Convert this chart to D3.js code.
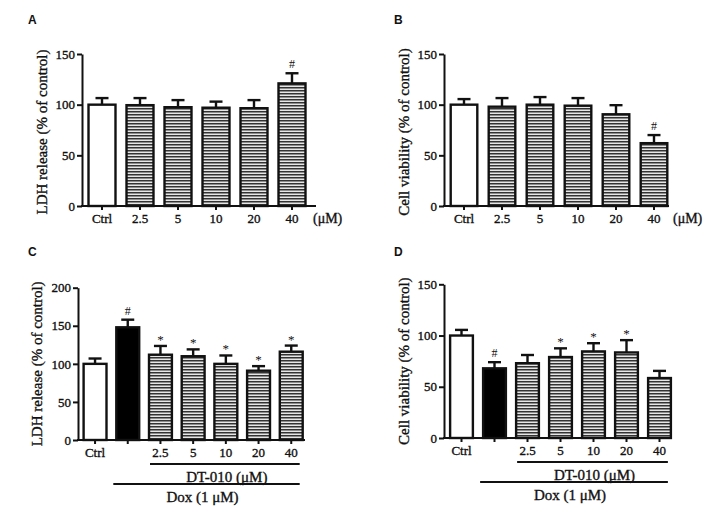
<!DOCTYPE html>
<html><head><meta charset="utf-8">
<script src="https://cdn.jsdelivr.net/npm/d3@7"></script>
<style>
body{margin:0;background:#fff;}
svg{display:block;}
text{font-family:"Liberation Serif","Times New Roman",serif;fill:#111;}
text.s{stroke:#111;stroke-width:0.35px;}
</style></head>
<body><svg id="c" width="708" height="510"></svg>
<script>
// ---- data ----
const catsAB = ["Ctrl", "2.5", "5", "10", "20", "40"];
const labelsAB = ["Ctrl", "2.5", "5", "10", "20", "40"];
const catsCD = ["Ctrl", "Dox", "2.5", "5", "10", "20", "40"];
const labelsCD = ["Ctrl", "", "2.5", "5", "10", "20", "40"];

const ldhA = [100, 99.5, 97.5, 97, 96.5, 121];
const ldhAErr = [6.5, 7, 7, 6, 8, 10];
const ldhAMark = ["", "", "", "", "", "#"];

const viaB = [100, 98, 100, 99, 90.5, 62];
const viaBErr = [5.5, 8.5, 7.5, 7.5, 9, 8];
const viaBMark = ["", "", "", "", "", "#"];

const ldhC = [100, 148, 112, 110, 100, 91, 116];
const ldhCErr = [7, 10, 11.5, 9, 11, 6, 8];
const ldhCMark = ["", "#", "*", "*", "*", "*", "*"];

const viaD = [100, 68, 73, 79, 84.5, 83.5, 58.5];
const viaDErr = [5.5, 6, 8, 8.5, 8, 12, 7];
const viaDMark = ["", "#", "", "*", "*", "*", ""];

const yTicksAB = [0, 50, 100, 150];
const yTicksC = [0, 50, 100, 150, 200];

const svg = d3.select("#c");
const defs = svg.append("defs");
const pat = defs.append("pattern").attr("id","stripes").attr("patternUnits","userSpaceOnUse")
  .attr("width", 6).attr("height", 3);
pat.append("rect").attr("width",6).attr("height",3).attr("fill","#e6e6e6");
pat.append("rect").attr("y",0).attr("width",6).attr("height",1.5).attr("fill","#333");

function panel(o){
  const g = svg.append("g");
  const y = d3.scaleLinear().domain([0, o.ymax]).range([o.y0, o.ytop]);
  const n = o.cats.length;
  const x = d3.scaleBand().domain(o.cats)
    .range([o.ax + o.start, o.ax + o.start + n*o.step])
    .paddingInner(o.pad).paddingOuter(o.pad/2);
  const bw = x.bandwidth();

  g.append("text").attr("x", o.letterX).attr("y", o.letterY).text(o.letter)
    .style("font-family","'Liberation Sans',Arial,sans-serif").style("font-weight","bold").style("font-size","12px");

  const ya = g.append("g").attr("transform",`translate(${o.ax},0)`)
    .call(d3.axisLeft(y).tickValues(o.yticks).tickSize(5).tickSizeOuter(0).tickPadding(2));
  ya.selectAll("path,line").attr("stroke","#111").attr("stroke-width",2);
  ya.selectAll("text").attr("class","s").style("font-family","'Liberation Serif',serif").style("font-size","13px").attr("fill","#111");

  g.append("text").attr("class","s").attr("transform",`translate(${o.titleX},${(o.y0+o.ytop)/2+o.titleDy}) rotate(-90)`)
    .attr("text-anchor","middle").style("font-size","15px").attr("fill","#000").text(o.title);

  o.vals.forEach((v,i)=>{
    const c = o.cats[i];
    const fill = c==="Ctrl" ? "#fff" : (c==="Dox" ? "#000" : "url(#stripes)");
    const bx = x(c), cx = bx + bw/2;
    g.append("line").attr("x1",cx).attr("x2",cx).attr("y1",y(v)).attr("y2",y(v+o.err[i]))
      .attr("stroke","#111").attr("stroke-width",2.4);
    g.append("line").attr("x1",cx-6.5).attr("x2",cx+6.5).attr("y1",y(v+o.err[i])).attr("y2",y(v+o.err[i]))
      .attr("stroke","#111").attr("stroke-width",2.4);
    g.append("rect").attr("x",bx).attr("y",y(v)).attr("width",bw).attr("height",o.y0-y(v))
      .attr("fill",fill).attr("stroke","#111").attr("stroke-width",2.4);
    if (o.marks[i]) {
      const m = o.marks[i];
      g.append("text").attr("x",cx).attr("y",y(v+o.err[i]) - (m==="#"?5:2)).attr("text-anchor","middle")
        .style("font-size", m==="#" ? "12px" : "13px").attr("fill", m==="#" ? "#111" : "#333").text(m);
    }
  });

  const xa = g.append("g").attr("transform",`translate(0,${o.y0})`)
    .call(d3.axisBottom(x).tickSize(4).tickSizeOuter(0).tickPadding(4)
      .tickFormat((d,i)=>o.labels[i]));
  xa.select(".domain").remove();
  xa.selectAll("line").attr("stroke","#111").attr("stroke-width",2);
  xa.selectAll("text").attr("class","s").style("font-family","'Liberation Serif',serif").style("font-size","13px").attr("fill","#111");
  g.append("line").attr("x1",o.ax-1).attr("x2",o.xEnd).attr("y1",o.y0).attr("y2",o.y0)
    .attr("stroke","#111").attr("stroke-width",2);

  if (o.unit) {
    g.append("text").attr("class","s").attr("x",o.xEnd+o.unitDx).attr("y",o.y0+17).style("font-size","14px").text("(\u03bcM)");
  }
  if (o.brackets) {
    const l1 = x("2.5")+1, r = x("40")+bw-3, l2 = x("Dox")-3;
    g.append("line").attr("x1",l1).attr("x2",r).attr("y1",o.y0+24).attr("y2",o.y0+24).attr("stroke","#111").attr("stroke-width",2);
    g.append("text").attr("class","s").attr("x",(l1+r)/2+2).attr("y",o.y0+42).attr("text-anchor","middle").style("font-size","15px").text("DT-010 (\u03bcM)");
    g.append("line").attr("x1",l2).attr("x2",r).attr("y1",o.y0+44).attr("y2",o.y0+44).attr("stroke","#111").attr("stroke-width",2);
    g.append("text").attr("class","s").attr("x",(l2+r)/2-4).attr("y",o.y0+62).attr("text-anchor","middle").style("font-size","15px").text("Dox (1 \u03bcM)");
  }
}

panel({letter:"A", letterX:28, letterY:24, ax:82, y0:206, ytop:54, ymax:150, yticks:yTicksAB,
  cats:catsAB, labels:labelsAB, vals:ldhA, err:ldhAErr, marks:ldhAMark,
  start:1, step:38, pad:0.29, xEnd:316, unit:true, unitDx:-3,
  title:"LDH release (% of control)", titleX:47, titleDy:2});
panel({letter:"B", letterX:394, letterY:24, ax:444, y0:206, ytop:54, ymax:150, yticks:yTicksAB,
  cats:catsAB, labels:labelsAB, vals:viaB, err:viaBErr, marks:viaBMark,
  start:1, step:38, pad:0.3, xEnd:669, unit:true, unitDx:4,
  title:"Cell viability (% of control)", titleX:409, titleDy:2});
panel({letter:"C", letterX:28, letterY:256, ax:78, y0:440, ytop:287.7, ymax:200, yticks:yTicksC,
  cats:catsCD, labels:labelsCD, vals:ldhC, err:ldhCErr, marks:ldhCMark,
  start:0.7, step:32.7, pad:0.3, xEnd:305, unit:false, brackets:true,
  title:"LDH release (% of control)", titleX:42, titleDy:0});
panel({letter:"D", letterX:394, letterY:256, ax:444, y0:438, ytop:284.3, ymax:150, yticks:yTicksAB,
  cats:catsCD, labels:labelsCD, vals:viaD, err:viaDErr, marks:viaDMark,
  start:1, step:33, pad:0.31, xEnd:667, unit:false, brackets:true,
  title:"Cell viability (% of control)", titleX:409, titleDy:0});
</script></body></html>
